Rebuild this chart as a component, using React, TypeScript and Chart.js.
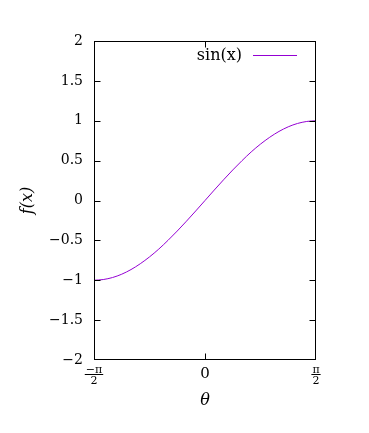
import React, { useEffect, useRef } from "react";
import { Chart, registerables } from "chart.js";

Chart.register(...registerables);

const thetaValues = [
  -1.571, -1.44, -1.309, -1.178, -1.047, -0.916, -0.785, -0.654, -0.524, -0.393, -0.262, -0.131, 0,
  0.131, 0.262, 0.393, 0.524, 0.654, 0.785, 0.916, 1.047, 1.178, 1.309, 1.44, 1.571,
];
const sinValues = [
  -1.0, -0.991, -0.966, -0.924, -0.866, -0.793, -0.707, -0.609, -0.5, -0.383, -0.259, -0.131, 0,
  0.131, 0.259, 0.383, 0.5, 0.609, 0.707, 0.793, 0.866, 0.924, 0.966, 0.991, 1.0,
];
const yTickValues = [-2, -1.5, -1, -0.5, 0, 0.5, 1, 1.5, 2];
const xTickValues = [-1.5708, 0, 1.5708];
const xTickLabels: (string | string[])[] = [["−π", "2"], "0", ["π", "2"]];
const seriesLabel = "sin(x)";
const xTitle = "θ";
const yTitle = "f(x)";
const lineColor = "#9400D3";
const FONT = "'DejaVu Serif', 'Liberation Serif', serif";

const fmtY = (v: number) => (v < 0 ? "−" + String(Math.abs(v)) : String(v));

const framePlugin = {
  id: "gnuFrame",
  afterDraw(chart: any) {
    const { ctx, chartArea } = chart;
    const { left, right, top, bottom } = chartArea;
    const xs = chart.scales.x;
    const ys = chart.scales.y;
    const L = Math.round(left) + 0.5;
    const R = Math.round(right) - 0.5;
    const T = Math.round(top) + 0.5;
    const B = Math.round(bottom) - 0.5;
    ctx.save();
    ctx.strokeStyle = "#000";
    ctx.lineWidth = 1;
    ctx.strokeRect(L, T, R - L, B - T);
    const tl = 6;
    ctx.beginPath();
    yTickValues.forEach((v) => {
      const y = Math.min(B, Math.max(T, Math.round(ys.getPixelForValue(v)) + 0.5));
      ctx.moveTo(L, y);
      ctx.lineTo(L + tl, y);
      ctx.moveTo(R, y);
      ctx.lineTo(R - tl, y);
    });
    xTickValues.forEach((v) => {
      const x = Math.min(R, Math.max(L, Math.round(xs.getPixelForValue(v)) + 0.5));
      ctx.moveTo(x, B);
      ctx.lineTo(x, B - tl);
      ctx.moveTo(x, T);
      ctx.lineTo(x, T + tl);
    });
    ctx.stroke();
    // fraction bars for the x tick labels
    ctx.font = `11px ${FONT}`;
    xTickValues.forEach((v, i) => {
      const lab = xTickLabels[i];
      if (Array.isArray(lab)) {
        const x = xs.getPixelForValue(v);
        const w = Math.max(ctx.measureText(lab[0]).width, ctx.measureText(lab[1]).width) + 2;
        const y = Math.round(bottom + 5 + 9) + 0.5;
        ctx.beginPath();
        ctx.moveTo(x - w / 2, y);
        ctx.lineTo(x + w / 2, y);
        ctx.stroke();
      }
    });
    // legend
    ctx.fillStyle = "#000";
    ctx.font = `16px ${FONT}`;
    ctx.textAlign = "right";
    ctx.textBaseline = "middle";
    ctx.fillText(seriesLabel, 242, 56);
    ctx.strokeStyle = lineColor;
    ctx.beginPath();
    ctx.moveTo(253, 55.5);
    ctx.lineTo(297, 55.5);
    ctx.stroke();
    ctx.restore();
  },
};

export default function App() {
  const ref = useRef<HTMLCanvasElement | null>(null);
  useEffect(() => {
    if (!ref.current) return;
    const chart = new Chart(ref.current, {
      type: "line",
      data: {
        datasets: [
          {
            label: seriesLabel,
            data: thetaValues.map((x, i) => ({ x, y: sinValues[i] })),
            borderColor: lineColor,
            borderWidth: 1,
            pointRadius: 0,
            fill: false,
            cubicInterpolationMode: "monotone",
          },
        ],
      },
      options: {
        responsive: false,
        animation: false,
        devicePixelRatio: 1,
        layout: { padding: { top: 41, right: 53, left: 0, bottom: 0 } },
        plugins: { legend: { display: false }, tooltip: { enabled: false } },
        scales: {
          x: {
            type: "linear",
            min: -1.5708,
            max: 1.5708,
            afterBuildTicks: (s: any) => {
              s.ticks = xTickValues.map((v) => ({ value: v }));
            },
            afterFit: (s: any) => {
              s.height = 73;
            },
            grid: { display: false, drawTicks: false },
            border: { display: false },
            ticks: {
              autoSkip: false,
              maxRotation: 0,
              minRotation: 0,
              padding: 5,
              color: "#000",
              callback: (v: any) => {
                const i = xTickValues.findIndex((t) => Math.abs(t - Number(v)) < 1e-6);
                return i >= 0 ? xTickLabels[i] : "";
              },
              font: (c: any) =>
                c.tick && Math.abs(c.tick.value) < 1e-6
                  ? { family: FONT, size: 15, lineHeight: 1.25 }
                  : { family: FONT, size: 11, lineHeight: 0.95 },
            },
            title: {
              display: true,
              text: xTitle,
              color: "#000",
              font: { family: FONT, size: 16, style: "italic", lineHeight: 1.2 },
              padding: { top: 0, bottom: 23 },
            },
          },
          y: {
            min: -2,
            max: 2,
            afterBuildTicks: (s: any) => {
              s.ticks = yTickValues.map((v) => ({ value: v }));
            },
            afterFit: (s: any) => {
              s.width = 94;
            },
            grid: { display: false, drawTicks: false },
            border: { display: false },
            ticks: {
              padding: 11,
              color: "#000",
              font: { family: FONT, size: 14 },
              callback: (v: any) => fmtY(Number(v)),
            },
            title: {
              display: true,
              text: yTitle,
              color: "#000",
              font: { family: FONT, size: 16, style: "italic", lineHeight: 1.2 },
              padding: { top: 18, bottom: 0 },
            },
          },
        },
      },
      plugins: [framePlugin],
    } as any);
    return () => chart.destroy();
  }, []);
  return (
    <div style={{ position: "absolute", left: 0, top: 0, width: 369, height: 433, background: "#fff" }}>
      <canvas ref={ref} width={369} height={433} />
    </div>
  );
}
